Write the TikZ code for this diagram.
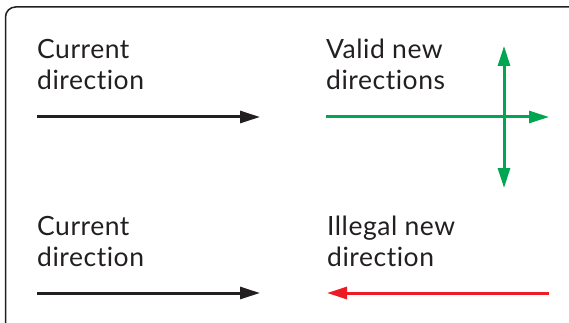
\documentclass[tikz,border=0pt]{standalone}
\usepackage{fontspec}
\setmainfont{Lato}[Ligatures=NoCommon, LetterSpace=2]
\usetikzlibrary{arrows.meta}
\definecolor{ink}{HTML}{231F20}
\definecolor{okgreen}{HTML}{00A651}
\definecolor{badred}{HTML}{ED1C24}
\tikzset{
  lbl/.style={anchor=base west, inner sep=0pt, align=left, text=ink,
    font=\fontsize{26.5}{31}\selectfont},
  tipA/.style={-{Triangle[length=20pt,width=12pt]}},
  tipAA/.style={{Triangle[length=20pt,width=12pt]}-{Triangle[length=20pt,width=12pt]}},
  blackline/.style={draw=ink, line width=3pt, tipA},
  greenline/.style={draw=okgreen, line width=3pt},
  redline/.style={draw=badred, line width=3pt, tipA},
  frame/.style={draw=ink, line width=1.5pt, rounded corners=10pt}
}
\begin{document}
\begin{tikzpicture}[x=1pt,y=-1pt]
\useasboundingbox (0,0) rectangle (569,323);
\clip (0,0) rectangle (569,323);
\draw[frame] (5.5,7) rectangle (640,400);
% labels (anchored at the baseline of the last line)
\node[lbl] (cur1) at (37,90) {Current\\direction};
\node[lbl] (valid) at (326,90) {Valid new\\directions};
\node[lbl] (cur2) at (37,266) {Current\\direction};
\node[lbl] (illegal) at (327,266) {Illegal new\\direction};
% coordinates
\coordinate (b1s) at (37,117);
\coordinate (b1e) at (260,117);
\coordinate (gs) at (326,117);
\coordinate (ge) at (549,117);
\coordinate (gt) at (504,46);
\coordinate (gb) at (504,188);
\coordinate (b2s) at (37,293);
\coordinate (b2e) at (260,293);
\coordinate (rs) at (549,293);
\coordinate (re) at (327,293);
% arrows
\draw[blackline] (b1s) -- (b1e);
\draw[greenline, tipA] (gs) -- (ge);
\draw[greenline, tipAA] (gt) -- (gb);
\draw[blackline] (b2s) -- (b2e);
\draw[redline] (rs) -- (re);
\end{tikzpicture}
\end{document}
